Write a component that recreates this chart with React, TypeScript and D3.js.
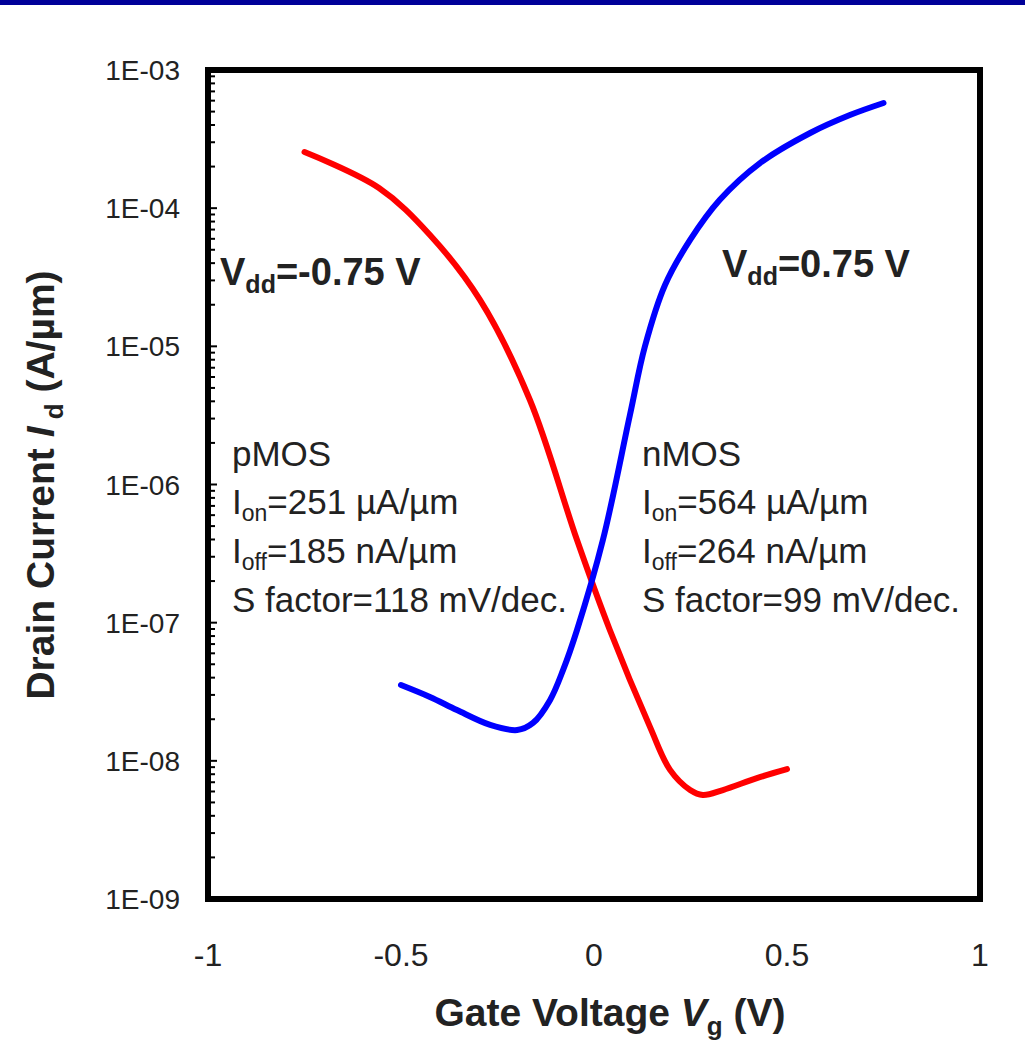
import React from "react";
import * as d3 from "d3";

// gate voltage (V) and drain current (A/um)
const pmosVg = [-0.75, -0.557, -0.425, -0.295, -0.166, -0.044, 0.041, 0.145, 0.197, 0.249, 0.282, 0.334, 0.422, 0.5];
const pmosId = [2.55e-4, 1.4e-4, 6.4e-5, 2.16e-5, 4.09e-6, 3.96e-7, 8.85e-8, 1.76e-8, 8.6e-9, 6.15e-9, 5.66e-9, 6.15e-9, 7.5e-9, 8.7e-9];

const nmosVg = [-0.5, -0.425, -0.355, -0.269, -0.199, -0.158, -0.114, -0.08, -0.044, 0.023, 0.093, 0.132, 0.184, 0.249, 0.326, 0.43, 0.56, 0.663, 0.75];
const nmosId = [3.54e-8, 2.9e-8, 2.33e-8, 1.82e-8, 1.67e-8, 1.88e-8, 2.75e-8, 4.55e-8, 8.85e-8, 3.96e-7, 3.18e-6, 1.0e-5, 2.78e-5, 5.89e-5, 1.15e-4, 2.12e-4, 3.5e-4, 4.72e-4, 5.77e-4];

const xTicks = [-1, -0.5, 0, 0.5, 1];
const yTicks = [1e-3, 1e-4, 1e-5, 1e-6, 1e-7, 1e-8, 1e-9];
const yTickLabels = ["1E-03", "1E-04", "1E-05", "1E-06", "1E-07", "1E-08", "1E-09"];

const pmosNotes = [["I", "on", "=251 \u00b5A/\u00b5m"], ["I", "off", "=185 nA/\u00b5m"]];
const nmosNotes = [["I", "on", "=564 \u00b5A/\u00b5m"], ["I", "off", "=264 nA/\u00b5m"]];

const W = 1025, H = 1040;
const left = 208, right = 980, top = 70, bottom = 899;
const font = "Arial, 'Liberation Sans', sans-serif";

export default function App() {
  const x = d3.scaleLinear().domain([-1, 1]).range([left, right]);
  const y = d3.scaleLog().domain([1e-9, 1e-3]).range([bottom, top]);

  const line = d3.line<[number, number]>()
    .x(d => x(d[0]))
    .y(d => y(d[1]))
    .curve(d3.curveCatmullRom.alpha(0.5));

  const pmos = pmosVg.map((v, i) => [v, pmosId[i]] as [number, number]);
  const nmos = nmosVg.map((v, i) => [v, nmosId[i]] as [number, number]);

  // minor log ticks 2..9 in each decade
  const minor: number[] = [];
  for (let e = -9; e < -3; e++) {
    for (let k = 2; k <= 9; k++) minor.push(k * Math.pow(10, e));
  }

  const noteBlock = (x0: number, title: string, notes: string[][], s: string) => (
    <g fontFamily={font} fontSize={35} fill="#222">
      <text x={x0} y={466}>{title}</text>
      {notes.map((n, i) => (
        <text key={i} x={x0} y={514 + i * 49}>
          {n[0]}
          <tspan fontSize={23} dy={7}>{n[1]}</tspan>
          <tspan dy={-7}>{n[2]}</tspan>
        </text>
      ))}
      <text x={x0} y={612}>{s}</text>
    </g>
  );

  return (
    <svg width={W} height={H} style={{ position: "absolute", left: 0, top: 0, background: "#fff" }}>
      <rect x={0} y={0} width={W} height={5} fill="#000099" />

      {/* curves */}
      <path d={line(pmos) || ""} fill="none" stroke="#ff0000" strokeWidth={6} strokeLinecap="round" />
      <path d={line(nmos) || ""} fill="none" stroke="#0000ff" strokeWidth={6} strokeLinecap="round" />

      {/* frame */}
      <rect x={left} y={top} width={right - left} height={bottom - top} fill="none" stroke="#000" strokeWidth={6} />

      {/* y ticks inside the left axis */}
      {minor.map((v, i) => (
        <line key={"m" + i} x1={left} x2={left + 7} y1={y(v)} y2={y(v)} stroke="#000" strokeWidth={2} />
      ))}
      {yTicks.map((v, i) => (
        <g key={"y" + i}>
          <line x1={left} x2={left + 9} y1={y(v)} y2={y(v)} stroke="#000" strokeWidth={2} />
          <text x={180} y={y(v) + 10} textAnchor="end" fontFamily={font} fontSize={28} fill="#222">{yTickLabels[i]}</text>
        </g>
      ))}

      {xTicks.map((v, i) => (
        <text key={"x" + i} x={x(v)} y={966} textAnchor="middle" fontFamily={font} fontSize={32} fill="#222">{v}</text>
      ))}

      {/* axis titles */}
      <text x={610} y={1026} textAnchor="middle" fontFamily={font} fontSize={39} fontWeight="bold" fill="#222">
        Gate Voltage <tspan fontStyle="italic">V</tspan>
        <tspan fontSize={26} dy={9}>g</tspan>
        <tspan dy={-9}> (V)</tspan>
      </text>
      <text transform="translate(54,485) rotate(-90)" textAnchor="middle" fontFamily={font} fontSize={39} fontWeight="bold" fill="#222">
        Drain Current  <tspan fontStyle="italic">I</tspan>
        <tspan fontSize={26} dy={9}> d</tspan>
        <tspan dy={-9}>{" (A/\u00b5m)"}</tspan>
      </text>

      {/* annotations */}
      <text x={220} y={285} fontFamily={font} fontSize={38} fontWeight="bold" fill="#222">
        V<tspan fontSize={25} dy={8}>dd</tspan><tspan dy={-8}>=-0.75 V</tspan>
      </text>
      <text x={722} y={277} fontFamily={font} fontSize={38} fontWeight="bold" fill="#222">
        V<tspan fontSize={25} dy={8}>dd</tspan><tspan dy={-8}>=0.75 V</tspan>
      </text>

      {noteBlock(232, "pMOS", pmosNotes, "S factor=118 mV/dec.")}
      {noteBlock(642, "nMOS", nmosNotes, "S factor=99 mV/dec.")}
    </svg>
  );
}
